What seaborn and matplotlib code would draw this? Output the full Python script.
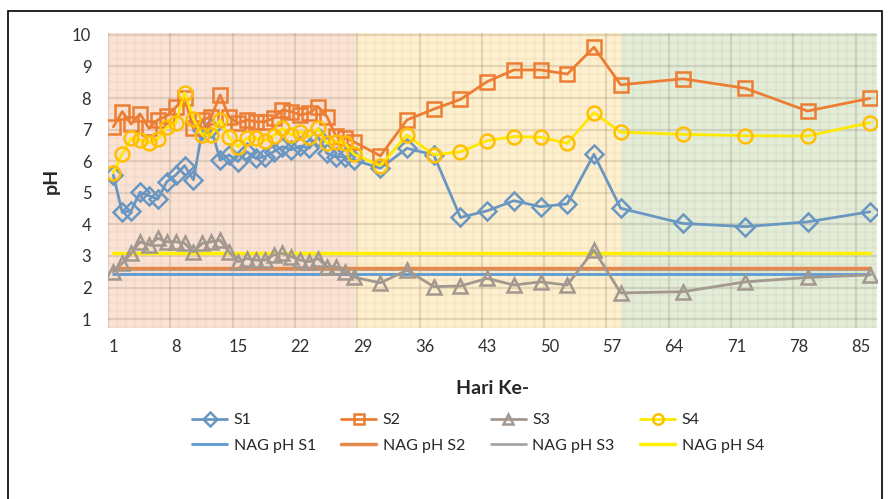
import matplotlib
matplotlib.use('Agg')
import matplotlib.pyplot as plt
import matplotlib.patches as patches
import seaborn as sns
import pandas as pd
import numpy as np

###############
##Data#########
###############

days = list(range(1, 29)) + [31, 34, 37, 40, 43, 46, 49, 52, 55, 58, 65, 72, 79, 86]

s1 = [5.56, 4.38, 4.43, 5.02, 4.91, 4.80, 5.35, 5.56, 5.86, 5.41, 6.99, 7.04, 6.04, 6.20,
      5.99, 6.30, 6.09, 6.14, 6.30, 6.46, 6.36, 6.48, 6.41, 6.78, 6.25, 6.14, 6.14, 6.04,
      5.78, 6.41, 6.20, 4.22, 4.43, 4.75, 4.56, 4.65, 6.22, 4.51, 4.03, 3.93, 4.08, 4.40]
s2 = [7.09, 7.57, 7.18, 7.50, 7.04, 7.31, 7.43, 7.71, 7.99, 7.04, 7.31, 7.41, 8.10, 7.41,
      7.20, 7.31, 7.25, 7.25, 7.36, 7.62, 7.57, 7.47, 7.52, 7.73, 7.41, 6.80, 6.75, 6.62,
      6.17, 7.31, 7.65, 7.96, 8.52, 8.89, 8.89, 8.76, 9.61, 8.42, 8.61, 8.31, 7.59, 7.99]
s3 = [2.50, 2.77, 3.08, 3.45, 3.35, 3.56, 3.45, 3.45, 3.40, 3.13, 3.40, 3.45, 3.50, 3.13,
      2.82, 2.92, 2.87, 2.87, 3.03, 3.08, 2.98, 2.87, 2.82, 2.92, 2.66, 2.66, 2.50, 2.33,
      2.15, 2.55, 2.03, 2.05, 2.29, 2.08, 2.18, 2.08, 3.19, 1.83, 1.87, 2.18, 2.32, 2.40]
s4 = [5.64, 6.23, 6.73, 6.67, 6.59, 6.70, 7.08, 7.20, 8.17, 7.33, 6.83, 6.83, 7.31, 6.76,
      6.46, 6.73, 6.73, 6.65, 6.80, 7.04, 6.83, 6.94, 6.78, 7.04, 6.57, 6.62, 6.57, 6.23,
      5.86, 6.83, 6.20, 6.30, 6.65, 6.78, 6.76, 6.57, 7.54, 6.92, 6.85, 6.81, 6.80, 7.22]

nag_days = [1, 86]
nag_s1 = [2.42, 2.42]
nag_s2 = [2.61, 2.61]
nag_s3 = [2.60, 2.60]
nag_s4 = [3.11, 3.11]

# phase boundaries (days)
phase_edges = [0.4, 28.1, 58.0, 86.8]
phase_colors = ['#FAE3D5', '#FEF0CE', '#E3EDD8']

x_ticks = list(range(1, 86, 7))
y_ticks = list(range(1, 11))

df = pd.DataFrame({'Hari': days, 'S1': s1, 'S2': s2, 'S3': s3, 'S4': s4})

###############
##Plot#########
###############

sns.set_style('white')
plt.rcParams['font.family'] = ['Lato', 'DejaVu Sans']

fig = plt.figure(figsize=(8.88, 4.99), dpi=100)
ax = fig.add_axes([108/888, 1-328/499, 769/888, 295/499])

ax.set_xlim(phase_edges[0], phase_edges[-1])
ax.set_ylim(0.72, 10.06)

# coloured phases + graph paper background
for i in range(3):
    ax.axvspan(phase_edges[i], phase_edges[i+1], color=phase_colors[i], lw=0, zorder=0)
for xv in np.arange(0.4, 86.8, 1.0):
    ax.axvline(xv, color='#5a3a20', alpha=0.035, lw=1.6, zorder=0.5)
for yv in np.arange(0.75, 10.06, 0.25):
    ax.axhline(yv, color='#5a3a20', alpha=0.035, lw=1.6, zorder=0.5)
for xv in np.arange(0.4, 86.8, 7.0):
    ax.axvline(xv, color='#5a3a20', alpha=0.11, lw=1.6, zorder=0.6)
for yv in range(1, 11):
    ax.axhline(yv, color='#5a3a20', alpha=0.11, lw=1.6, zorder=0.6)

# NAG lines
sns.lineplot(x=nag_days, y=nag_s3, ax=ax, color='#A5A5A5', lw=2, label='NAG pH S3', zorder=2)
sns.lineplot(x=nag_days, y=nag_s1, ax=ax, color='#5B9BD5', lw=2, label='NAG pH S1', zorder=2)
sns.lineplot(x=nag_days, y=nag_s2, ax=ax, color='#E5884C', lw=2.5, label='NAG pH S2', zorder=2)
sns.lineplot(x=nag_days, y=nag_s4, ax=ax, color='#FFF000', lw=2.5, label='NAG pH S4', zorder=2)

# series
mk = dict(markersize=10, markerfacecolor='none', markeredgewidth=1.8, lw=2, zorder=3)
sns.lineplot(data=df, x='Hari', y='S1', ax=ax, color='#6A97C2', marker='D',
             markeredgecolor='#6A97C2', label='S1', **dict(mk, markersize=9))
sns.lineplot(data=df, x='Hari', y='S2', ax=ax, color='#EC7D33', marker='s',
             markeredgecolor='#EC7D33', label='S2', **mk)
sns.lineplot(data=df, x='Hari', y='S3', ax=ax, color='#A3988F', marker='^',
             markeredgecolor='#A3988F', label='S3', **mk)
sns.lineplot(data=df, x='Hari', y='S4', ax=ax, color='#FFE800', marker='o',
             markeredgecolor='#FFBF00', label='S4', **mk)

for s in ax.spines.values():
    s.set_visible(False)
ax.grid(False)
ax.set_xticks(x_ticks)
ax.set_yticks(y_ticks)
ax.tick_params(axis='both', length=0, labelsize=12, colors='#303030')
ax.tick_params(axis='y', pad=12)
ax.tick_params(axis='x', pad=8)

ax.set_xlabel('Hari Ke-', fontsize=14, fontweight='bold')
ax.set_ylabel('pH', fontsize=14, fontweight='bold')
ax.xaxis.set_label_coords(0.5, -0.175)
ax.yaxis.set_label_coords(-(108-60)/769, 0.5)

handles, labels = ax.get_legend_handles_labels()
hmap = dict(zip(labels, handles))
order = ['S1', 'NAG pH S1', 'S2', 'NAG pH S2', 'S3', 'NAG pH S3', 'S4', 'NAG pH S4']
ax.legend([hmap[k] for k in order], order, ncol=4, loc='center',
          bbox_to_anchor=(478/888, 1-433/499), bbox_transform=fig.transFigure,
          frameon=False, fontsize=11.5, handlelength=2.2, handletextpad=0.4,
          columnspacing=1.6, markerscale=0.75, labelspacing=0.7)

fig.add_artist(patches.Rectangle((8/888, -0.02), 874/888, (499-11)/499+0.02,
                                 fill=False, edgecolor='black', lw=1.2,
                                 transform=fig.transFigure))

plt.savefig('out.png', dpi=100)
plt.close()
